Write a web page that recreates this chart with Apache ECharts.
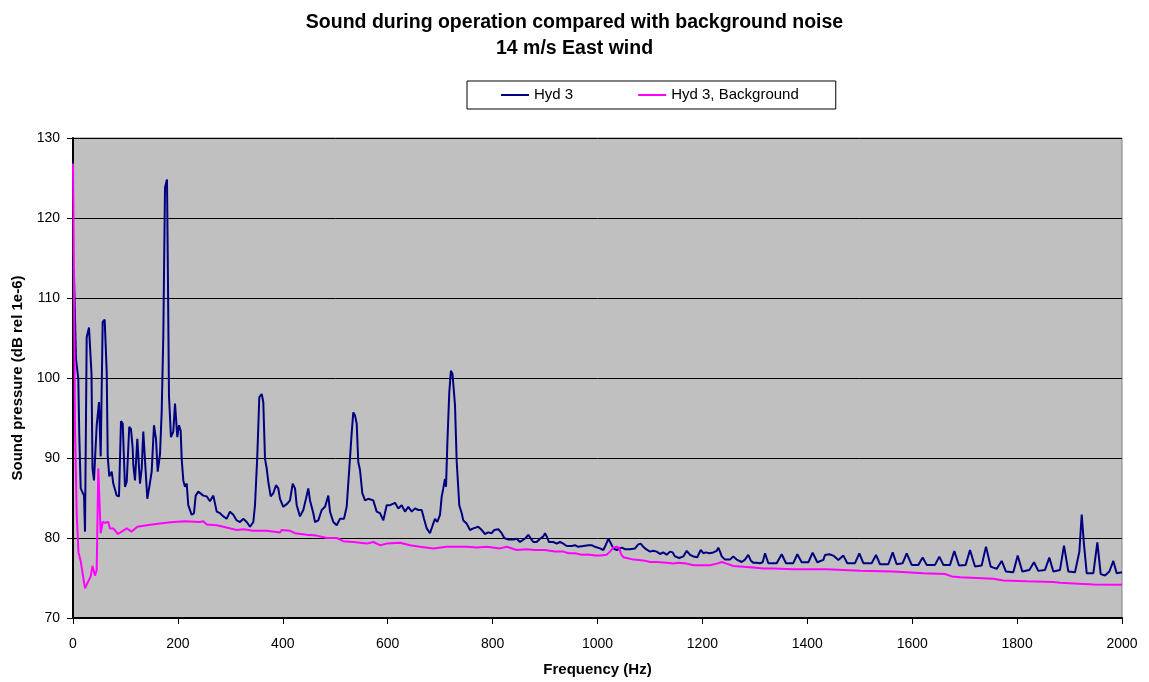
<!DOCTYPE html>
<html>
<head>
<meta charset="utf-8">
<script src="https://cdn.jsdelivr.net/npm/echarts@6/dist/echarts.min.js"></script>
<style>
html,body{margin:0;padding:0;background:#fff;}
#chart{width:1149px;height:682px;}
</style>
</head>
<body>
<div id="chart"></div>
<script>
// ---- data ----
var titleLines = ['Sound during operation compared with background noise', '14 m/s East wind'];
var seriesNames = ['Hyd 3', 'Hyd 3, Background'];
var xTicks = [0, 200, 400, 600, 800, 1000, 1200, 1400, 1600, 1800, 2000];
var yTicks = [70, 80, 90, 100, 110, 120, 130];

var hydFreq = [0,2,5.7,10.1,12,14.7,21,22.9,26.1,30.5,35.3,37.2,40,43.3,45.2,49.6,52.8,56.6,60.4,64.3,66.2,69.2,73.8,76.8,83.3,87.7,91.5,94.8,99.1,102.4,107.3,110.6,113.8,115,118.2,122.6,125.8,127.7,131,134,137.3,141.7,145.5,150,154.4,158.2,161.5,165.9,169.1,172.2,175.4,179.2,180.5,183,186.8,191.2,194.5,198.9,202.1,205.3,207.2,210.3,213.5,216.8,219.8,226.3,230.7,233.9,238.9,
242.1,248.4,254.9,261.2,267.5,274,280.3,286.6,293,299.3,305.6,312.1,318.4,324.7,331.2,337.5,343.8,347,351.4,355.2,359.8,362.8,366.1,369.3,372.4,376.9,381.9,387,391.4,394.7,400.9,408.6,413.7,418.9,423.3,426.5,432.8,439.1,444.2,448.6,451.9,458.2,461.4,467.7,474.2,480.5,486.8,490,496.3,502.8,509.1,516.7,521.8,526.8,531.4,534.4,537.7,540.9,543.9,547.2,551.6,556.7,563,572.5,579,585.3,591.6,598.1,604.4,613.9,620.2,626.7,633,639.3,645.8,652.1,658.3,664.8,669.2,674.4,680.6,685.8,690.2,694.6,699.7,703,706,709.2,711.2,713.6,717.4,720.5,723.5,726,728.3,731.6,736.5,741.1,744.1,750.6,756.9,763.2,
766.4,772.7,779.2,785.5,791.8,798.3,803.2,810.9,817.3,822.3,829.9,839.5,845.9,852.2,858.5,863.1,868.1,873.2,877.6,884.1,890.4,896.7,899.9,903.1,907.5,915.7,922.2,928.5,934.8,941.3,950.8,957.1,963.4,972.9,982.5,988.9,995.2,1004.8,1011.1,1015.6,1020.6,1025.7,1030.1,1036.6,1046.1,
1052.4,1062,1071.5,1077.8,1082.4,1087.3,1092.5,1100.1,1106.4,1112.9,1119.2,1125.5,1131.9,1138.2,1143.4,1147.8,1156,1163.6,1170.1,1176.4,1182.7,1190.3,1196.8,1201.7,1206.9,1213.2,1220.8,1227.3,1230.3,1233.6,1236.8,1243.1,1252.6,1258.9,1265.4,1274.9,1281.2,1287.5,1292.1,1297,1303.5,
1309.8,1314.9,1319.4,1325.7,1341.6,1351.2,1359.4,1373.3,1381,1389.3,1402,1410.2,1419.1,1430.6,1433.7,1442,1449.6,1459.2,1468.7,1476.3,1490.9,1499.2,1506.8,1522.7,1531,1538.6,1554.5,1562.8,1570.4,1581.8,1589.5,1599,1611.7,1620,1627.6,1643.5,1651.7,1659.4,1672.1,1680.3,1689.2,1701.9,1710.2,1719.7,1732.4,1740.7,1749.6,1761,1770.6,1778.8,1792.8,1801.1,1810,1823.3,1832.2,1840.5,1853.2,1861.4,1869.1,1881.8,1889.4,1897.7,1910.4,1918.7,1923.2,1927.6,1932.7,1945.4,1953,1959.4,1967.6,1975.9,1983.5,1989.9,2000];
var hydDb = [114,112.5,102.4,99.9,92.8,86.2,85.3,80.8,105.1,106.3,100.5,88.7,87.2,87.4,94.1,97,90.2,107,107.3,100.7,90.2,87.7,88.3,86.8,85.3,85.2,94.6,94.3,86.4,87,93.9,93.6,91.2,89.1,87.2,92.4,92.6,86.8,88.7,93.3,93.3,84.9,86.4,88.3,94.1,92.4,88.3,90.5,95.8,105.3,123.8,124.8,116.1,97.8,92.6,93.3,96.8,92.6,94.1,93.4,89.9,87.2,86.4,86.8,84.1,82.9,83.1,85.3,85.8,
85.8,85.3,85.2,84.6,85.3,83.3,83.1,82.7,82.4,83.3,82.9,82.2,82,82.4,82,81.4,82,84.1,90.3,97.6,98,97,89.9,88.7,87,85.2,85.6,86.6,86.2,84.9,83.9,84.3,84.7,86.8,86.2,84.1,82.7,83.5,84.9,86.2,84.7,83.1,82,82.2,83.5,83.9,85.3,83.3,82,81.6,82.4,82.4,83.9,88.7,93.2,95.7,95.3,94.3,89.5,88.5,85.6,84.7,84.9,84.7,83.3,83.1,82.2,84.1,84.1,84.4,83.7,84.1,83.3,83.9,83.3,83.7,83.5,83.5,82.4,81.2,80.6,81.6,82.4,82,82.9,85.2,86.2,87.4,86.4,91.6,98.2,100.9,100.5,98.5,96.6,89.5,84.1,83.1,82.2,81.8,81,81.2,
81.2,81.4,81,80.5,80.7,80.6,81,81.1,80.6,80,79.8,79.8,79.9,79.5,79.8,80,80.4,79.9,79.5,79.5,79.9,80.2,80.6,80.2,79.5,79.5,79.3,79.5,79.3,79,79,79.1,78.9,79,79.1,79.1,78.9,78.7,78.5,79.1,79.9,79.3,78.7,78.5,78.8,
78.6,78.6,78.7,79.2,79.3,78.9,78.6,78.3,78.4,78.3,78,78.2,77.9,78.3,78.2,77.7,77.5,77.7,78.4,77.9,77.7,77.6,78.5,78.1,78.2,78.1,78.2,78.4,78.8,78.3,77.7,77.3,77.3,77.7,77.3,77,77.3,77.9,77.2,76.9,76.9,
76.85,76.97,78.09,76.85,76.85,77.97,76.85,76.85,77.97,76.97,76.97,78.17,76.97,77.26,77.88,77.97,77.8,77.26,77.8,76.85,76.85,78.09,76.85,76.85,77.88,76.72,76.72,78.21,76.72,76.85,78.09,76.64,76.64,77.55,76.64,76.64,77.67,76.64,76.64,78.38,76.56,76.64,78.5,76.43,76.56,78.92,76.43,76.14,77.13,75.81,75.72,77.8,75.81,76.01,76.97,75.89,76.01,77.55,75.81,76.01,79.04,75.81,75.72,78.3,82.94,79.13,75.6,75.6,79.46,75.48,75.31,75.81,77.13,75.6,75.72];

var bgFreq = [0,1.5,3.8,7.1,10.5,14.7,18.5,22.9,26.1,29.2,33.7,37.2,41.9,45.2,48.2,50.1,52.8,56.6,61,67.3,70.5,76.8,85.8,92.9,102.4,111.9,122.6,140.5,165.9,191.2,213.5,242.1,248.4,254.9,274,286.6,312.1,324.7,343.8,369.3,394.7,397.9,413.7,423.3,445.6,464.6,483.7,502.8,515.3,534.4,560,572.5,585.3,598.1,623.5,642.5,661.6,686.9,712.5,731.6,750.6,769.7,788.8,814.1,826.9,845.9,865,880.8,899.9,918.7,934.8,944.9,957.1,970,982.5,995.2,1004.8,1017.5,1023.8,1030.1,1036.6,1041,1044.8,1049.2,1055.7,1068.3,1087.3,1100.1,1112.9,1131.9,1144.5,1154.1,1170.1,1182.7,1198.7,1214.5,1227.3,1236.8,1246.3,1258.9,1278,1297,1316.1,1335.2,1373.3,1437,1500.5,1564,1621.2,1662.5,1675.3,1691.1,1754.6,1773.7,1818.3,1869,1881.8,1945.3,2000];
var bgDb = [126.8,115,93.6,82.9,78.2,77.1,75.5,73.7,73.7,74.6,75.2,76.5,75.3,76,88.7,88.9,80.6,82,81.9,82,81.2,81.2,80.5,80.8,81.2,80.8,81.4,81.6,81.8,82,82.1,82,82.1,81.7,81.6,81.4,81,81.1,80.9,80.9,80.7,81,80.9,80.6,80.4,80.3,80,80,79.6,79.5,79.3,79.5,79.1,79.3,79.4,79.1,78.9,78.7,78.9,78.9,78.9,78.8,78.9,78.7,78.9,78.5,78.6,78.5,78.5,78.3,78.3,78.1,78.1,77.9,77.95,77.8,77.8,77.9,78.3,78.8,78.9,78.8,78,77.6,77.5,77.3,77.2,77,77,76.9,76.8,76.9,76.8,76.6,76.6,76.6,76.8,77,76.8,76.5,76.4,76.3,76.2,76.2,76.1,76.1,75.9,75.8,75.6,75.5,75.2,75.1,74.9,74.7,74.6,74.5,74.4,74.2,74.15];

function pairs(xs, ys){ var out=[]; for(var i=0;i<xs.length;i++){ out.push([xs[i], ys[i]]); } return out; }

var FONT = '"Liberation Sans", Arial, sans-serif';
var chart = echarts.init(document.getElementById('chart'), null, {renderer:'canvas'});
chart.setOption({
  backgroundColor: '#ffffff',
  animation: false,
  title: {
    text: titleLines.join('\n'),
    left: 574.5,
    textAlign: 'center',
    top: 10,
    padding: 0,
    textStyle: {fontFamily: FONT, fontSize: 19.5, fontWeight: 'bold', color: '#000', lineHeight: 26, align: 'center'}
  },
  legend: {
    data: seriesNames,
    left: 467,
    top: 81,
    padding: [6, 37, 6, 34],
    itemGap: 65,
    itemWidth: 28,
    itemHeight: 2,
    icon: 'rect',
    borderColor: '#000',
    borderWidth: 1,
    backgroundColor: '#fff',
    borderRadius: 0,
    textStyle: {fontFamily: FONT, fontSize: 15, color: '#000', lineHeight: 16}
  },
  grid: {
    left: 73, right: 27, top: 138, bottom: 62,
    show: true, backgroundColor: '#C0C0C0', borderColor: '#808080', borderWidth: 1
  },
  xAxis: {
    type: 'value', min: 0, max: 2000, interval: 200,
    name: 'Frequency (Hz)', nameLocation: 'middle', nameGap: 44,
    nameTextStyle: {fontFamily: FONT, fontSize: 15, fontWeight: 'bold', color: '#000'},
    axisLine: {show: true, onZero: false, lineStyle: {color: '#000', width: 2}},
    axisTick: {show: true, inside: false, length: 6, lineStyle: {color: '#000', width: 1}},
    axisLabel: {fontFamily: FONT, fontSize: 14, color: '#000', margin: 19,
      formatter: function(v){ return xTicks.indexOf(v) >= 0 ? String(v) : ''; }},
    splitLine: {show: false}
  },
  yAxis: {
    type: 'value', min: 70, max: 130, interval: 10,
    name: 'Sound pressure (dB rel 1e-6)', nameLocation: 'middle', nameGap: 48,
    nameTextStyle: {fontFamily: FONT, fontSize: 15, fontWeight: 'bold', color: '#000'},
    axisLine: {show: true, lineStyle: {color: '#000', width: 2}},
    axisTick: {show: true, inside: false, length: 6, lineStyle: {color: '#000', width: 1}},
    axisLabel: {fontFamily: FONT, fontSize: 14, color: '#000', margin: 13,
      formatter: function(v){ return yTicks.indexOf(v) >= 0 ? String(v) : ''; }},
    splitLine: {show: true, lineStyle: {color: '#000', width: 1}}
  },
  series: [
    {name: seriesNames[0], type: 'line', data: pairs(hydFreq, hydDb), symbol: 'none', showSymbol: false,
     lineStyle: {color: '#000080', width: 2}, itemStyle: {color: '#000080'}, z: 3},
    {name: seriesNames[1], type: 'line', data: pairs(bgFreq, bgDb), symbol: 'none', showSymbol: false,
     lineStyle: {color: '#FF00FF', width: 2}, itemStyle: {color: '#FF00FF'}, z: 4}
  ]
});
</script>
</body>
</html>
